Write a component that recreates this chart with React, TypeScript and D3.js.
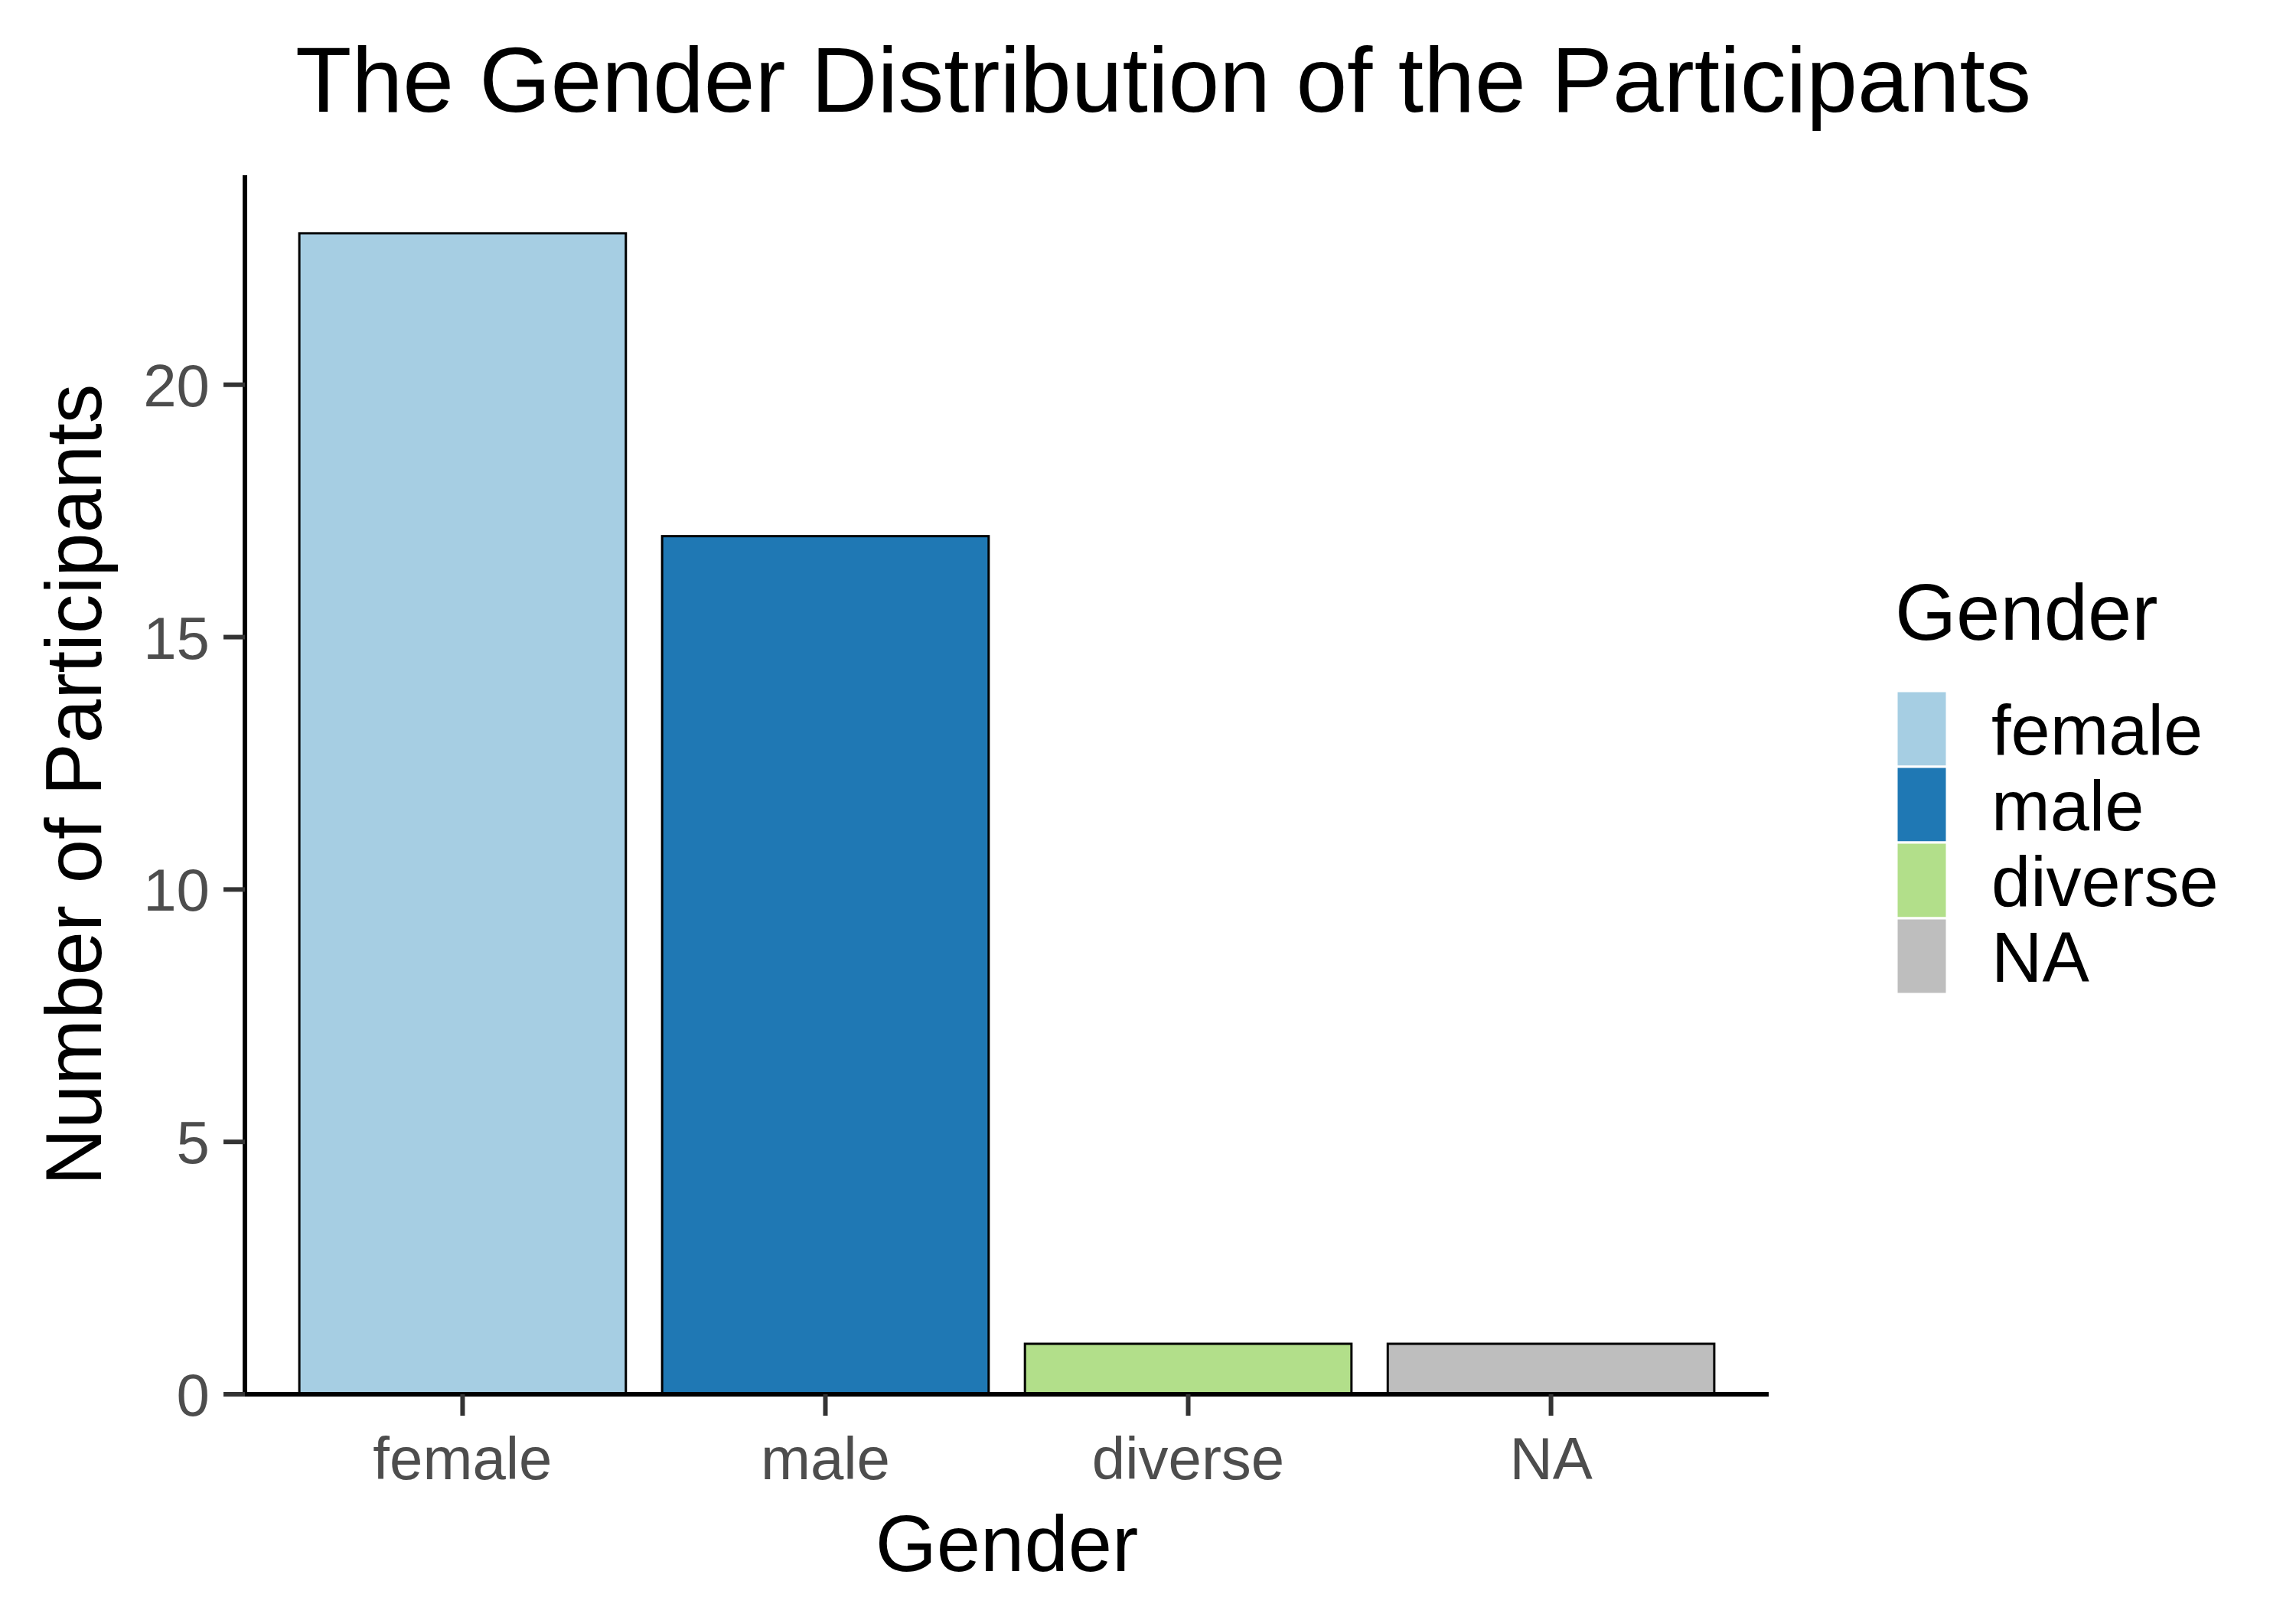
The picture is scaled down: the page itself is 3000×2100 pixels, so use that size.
import React from "react";
import * as d3 from "d3";

const categories = ["female", "male", "diverse", "NA"];
const counts = [23, 17, 1, 1];
const colors = ["#A6CEE3", "#1F78B4", "#B2DF8A", "#BEBEBE"];
const yTicks = [0, 5, 10, 15, 20];

const W = 3000;
const H = 2100;
const left = 320;
const right = 2311;
const top = 229;
const bottom = 1822;
const font = "'Liberation Sans', Arial, sans-serif";

export default function App() {
  const x = d3.scaleBand<string>().domain(categories).range([left, right]).paddingInner(0.1).paddingOuter(0.15);
  const y = d3.scaleLinear().domain([0, 23 * 1.05]).range([bottom, top]);
  const keyH = 99;
  const keyTop = 903;

  return (
    <svg width={W} height={H} style={{ display: "block", margin: -8 }}>
      <rect width={W} height={H} fill="white" />
      <text x={1520} y={146} textAnchor="middle" fontFamily={font} fontSize={120}>
        The Gender Distribution of the Participants
      </text>
      {categories.map((c, i) => (
        <rect key={c} x={x(c)} y={y(counts[i])} width={x.bandwidth()} height={y(0) - y(counts[i])}
          fill={colors[i]} stroke="black" strokeWidth={3} />
      ))}
      <line x1={left} x2={left} y1={top} y2={bottom + 3} stroke="black" strokeWidth={6} />
      <line x1={left - 3} x2={right} y1={bottom} y2={bottom} stroke="black" strokeWidth={6} />
      {yTicks.map((t) => (
        <g key={t}>
          <line x1={left - 28} x2={left} y1={y(t)} y2={y(t)} stroke="#333" strokeWidth={6} />
          <text x={left - 46} y={y(t)} dy="0.36em" textAnchor="end" fontFamily={font} fontSize={78} fill="#4D4D4D">{t}</text>
        </g>
      ))}
      {categories.map((c) => {
        const cx = x(c)! + x.bandwidth() / 2;
        return (
          <g key={c}>
            <line x1={cx} x2={cx} y1={bottom} y2={bottom + 28} stroke="#333" strokeWidth={6} />
            <text x={cx} y={1933} textAnchor="middle" fontFamily={font} fontSize={78} fill="#4D4D4D">{c}</text>
          </g>
        );
      })}
      <text x={(left + right) / 2} y={2053} textAnchor="middle" fontFamily={font} fontSize={103}>Gender</text>
      <text transform={`translate(132,${(top + bottom) / 2}) rotate(-90)`} textAnchor="middle" fontFamily={font} fontSize={103}>
        Number of Participants
      </text>
      <text x={2476} y={836} fontFamily={font} fontSize={103}>Gender</text>
      {categories.map((c, i) => (
        <g key={c}>
          <rect x={2478} y={keyTop + i * keyH} width={66} height={keyH} fill={colors[i]} stroke="white" strokeWidth={3} />
          <text x={2602} y={keyTop + i * keyH + keyH / 2} dy="0.36em" fontFamily={font} fontSize={92}>{c}</text>
        </g>
      ))}
    </svg>
  );
}
